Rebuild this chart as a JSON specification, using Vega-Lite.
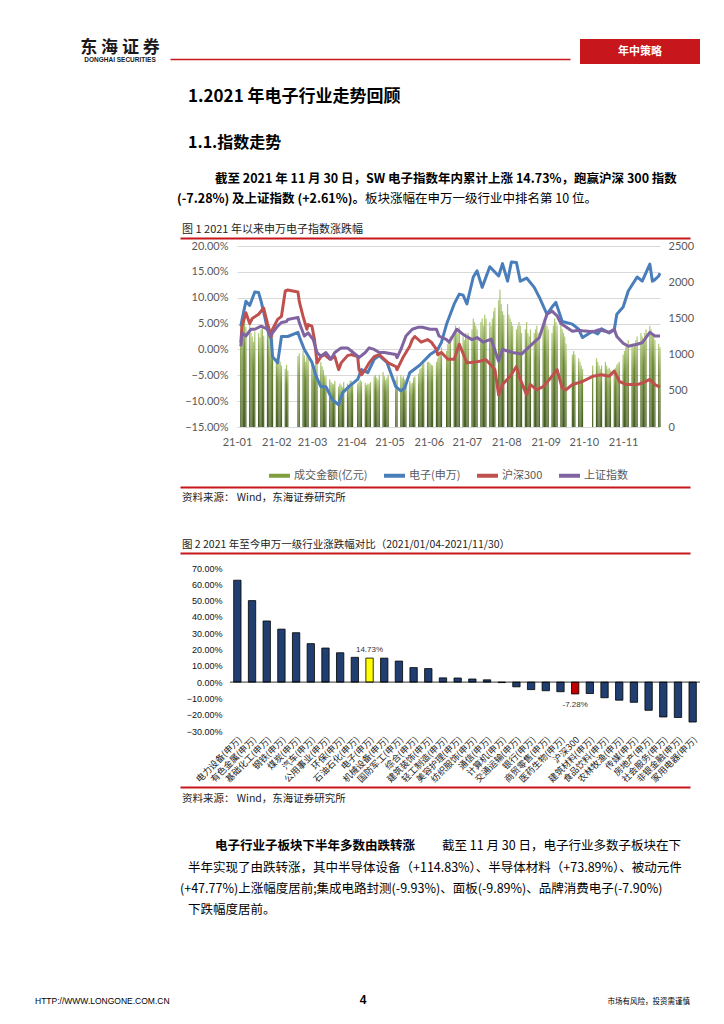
{
"$schema": "https://vega.github.io/schema/vega-lite/v6.json",
"padding": {"left": 35, "top": 38, "right": 10, "bottom": 5},
"background": "white",
"spacing": 0,
"resolve": {"scale": {"stroke": "independent", "color": "independent"}, "legend": {"stroke": "independent", "color": "independent"}},
"config": {
  "view": {"stroke": null},
  "font": "Noto Sans CJK SC",
  "title": {"anchor": "start", "frame": "group", "font": "Noto Sans CJK SC", "color": "#000000", "fontWeight": "normal", "offset": 0, "fontSize": 12.5, "orient": "bottom"},
  "text": {"font": "Noto Sans CJK SC"}
},
"datasets": {
  "empty": [],
  "logo": [{"cn": "东 海 证 券", "en": "DONGHAI SECURITIES", "tag": "年中策略"}],
  "amt": [
{"d":"2021-01-04","a":1450},{"d":"2021-01-05","a":1350},{"d":"2021-01-06","a":1420},{"d":"2021-01-07","a":1520},{"d":"2021-01-08","a":1380},
{"d":"2021-01-11","a":1430},{"d":"2021-01-12","a":1300},{"d":"2021-01-13","a":1250},{"d":"2021-01-14","a":1180},{"d":"2021-01-15","a":1320},
{"d":"2021-01-18","a":1300},{"d":"2021-01-19","a":1240},{"d":"2021-01-20","a":1350},{"d":"2021-01-21","a":1400},{"d":"2021-01-22","a":1260},
{"d":"2021-01-25","a":1480},{"d":"2021-01-26","a":1320},{"d":"2021-01-27","a":1230},{"d":"2021-01-28","a":1210},{"d":"2021-01-29","a":1280},
{"d":"2021-02-01","a":950},{"d":"2021-02-02","a":880},{"d":"2021-02-03","a":920},{"d":"2021-02-04","a":900},{"d":"2021-02-05","a":850},
{"d":"2021-02-08","a":800},{"d":"2021-02-09","a":860},{"d":"2021-02-10","a":780},{"d":"2021-02-18","a":980},{"d":"2021-02-19","a":1020},
{"d":"2021-02-22","a":1050},{"d":"2021-02-23","a":990},{"d":"2021-02-24","a":900},{"d":"2021-02-25","a":970},{"d":"2021-02-26","a":940},
{"d":"2021-03-01","a":900},{"d":"2021-03-02","a":870},{"d":"2021-03-03","a":850},{"d":"2021-03-04","a":910},{"d":"2021-03-05","a":880},
{"d":"2021-03-08","a":900},{"d":"2021-03-09","a":840},{"d":"2021-03-10","a":790},{"d":"2021-03-11","a":720},{"d":"2021-03-12","a":700},
{"d":"2021-03-15","a":660},{"d":"2021-03-16","a":620},{"d":"2021-03-17","a":600},{"d":"2021-03-18","a":590},{"d":"2021-03-19","a":640},
{"d":"2021-03-22","a":560},{"d":"2021-03-23","a":600},{"d":"2021-03-24","a":580},{"d":"2021-03-25","a":550},{"d":"2021-03-26","a":620},
{"d":"2021-03-29","a":600},{"d":"2021-03-30","a":580},{"d":"2021-03-31","a":640},
{"d":"2021-04-01","a":640},{"d":"2021-04-02","a":620},{"d":"2021-04-06","a":600},{"d":"2021-04-07","a":620},{"d":"2021-04-08","a":650},{"d":"2021-04-09","a":630},
{"d":"2021-04-12","a":610},{"d":"2021-04-13","a":580},{"d":"2021-04-14","a":600},{"d":"2021-04-15","a":590},{"d":"2021-04-16","a":620},
{"d":"2021-04-19","a":700},{"d":"2021-04-20","a":720},{"d":"2021-04-21","a":680},{"d":"2021-04-22","a":650},{"d":"2021-04-23","a":720},
{"d":"2021-04-26","a":760},{"d":"2021-04-27","a":700},{"d":"2021-04-28","a":650},{"d":"2021-04-29","a":680},{"d":"2021-04-30","a":720},
{"d":"2021-05-06","a":650},{"d":"2021-05-07","a":700},{"d":"2021-05-10","a":720},{"d":"2021-05-11","a":680},{"d":"2021-05-12","a":700},{"d":"2021-05-13","a":660},{"d":"2021-05-14","a":620},
{"d":"2021-05-17","a":640},{"d":"2021-05-18","a":600},{"d":"2021-05-19","a":610},{"d":"2021-05-20","a":680},{"d":"2021-05-21","a":700},
{"d":"2021-05-24","a":740},{"d":"2021-05-25","a":800},{"d":"2021-05-26","a":820},{"d":"2021-05-27","a":860},{"d":"2021-05-28","a":880},{"d":"2021-05-31","a":900},
{"d":"2021-06-01","a":900},{"d":"2021-06-02","a":880},{"d":"2021-06-03","a":860},{"d":"2021-06-04","a":850},
{"d":"2021-06-07","a":900},{"d":"2021-06-08","a":950},{"d":"2021-06-09","a":1000},{"d":"2021-06-10","a":1050},{"d":"2021-06-11","a":1100},
{"d":"2021-06-15","a":1050},{"d":"2021-06-16","a":1150},{"d":"2021-06-17","a":1200},{"d":"2021-06-18","a":1250},
{"d":"2021-06-21","a":1300},{"d":"2021-06-22","a":1400},{"d":"2021-06-23","a":1350},{"d":"2021-06-24","a":1300},{"d":"2021-06-25","a":1380},
{"d":"2021-06-28","a":1250},{"d":"2021-06-29","a":1200},{"d":"2021-06-30","a":1300},
{"d":"2021-07-01","a":1250},{"d":"2021-07-02","a":1300},{"d":"2021-07-05","a":1350},{"d":"2021-07-06","a":1500},{"d":"2021-07-07","a":1450},{"d":"2021-07-08","a":1400},{"d":"2021-07-09","a":1350},
{"d":"2021-07-12","a":1450},{"d":"2021-07-13","a":1500},{"d":"2021-07-14","a":1400},{"d":"2021-07-15","a":1550},{"d":"2021-07-16","a":1500},
{"d":"2021-07-19","a":1450},{"d":"2021-07-20","a":1400},{"d":"2021-07-21","a":1500},{"d":"2021-07-22","a":1600},{"d":"2021-07-23","a":1650},
{"d":"2021-07-26","a":1750},{"d":"2021-07-27","a":1900},{"d":"2021-07-28","a":1700},{"d":"2021-07-29","a":1600},{"d":"2021-07-30","a":1550},
{"d":"2021-08-02","a":1700},{"d":"2021-08-03","a":1550},{"d":"2021-08-04","a":1500},{"d":"2021-08-05","a":1450},{"d":"2021-08-06","a":1400},
{"d":"2021-08-09","a":1350},{"d":"2021-08-10","a":1400},{"d":"2021-08-11","a":1450},{"d":"2021-08-12","a":1400},{"d":"2021-08-13","a":1300},
{"d":"2021-08-16","a":1350},{"d":"2021-08-17","a":1450},{"d":"2021-08-18","a":1300},{"d":"2021-08-19","a":1250},{"d":"2021-08-20","a":1350},
{"d":"2021-08-23","a":1300},{"d":"2021-08-24","a":1350},{"d":"2021-08-25","a":1400},{"d":"2021-08-26","a":1300},{"d":"2021-08-27","a":1250},
{"d":"2021-08-30","a":1400},{"d":"2021-08-31","a":1500},
{"d":"2021-09-01","a":1450},{"d":"2021-09-02","a":1400},{"d":"2021-09-03","a":1350},
{"d":"2021-09-06","a":1300},{"d":"2021-09-07","a":1400},{"d":"2021-09-08","a":1500},{"d":"2021-09-09","a":1450},{"d":"2021-09-10","a":1400},
{"d":"2021-09-13","a":1450},{"d":"2021-09-14","a":1350},{"d":"2021-09-15","a":1300},{"d":"2021-09-16","a":1250},{"d":"2021-09-17","a":1150},
{"d":"2021-09-22","a":1000},{"d":"2021-09-23","a":1050},{"d":"2021-09-24","a":1000},
{"d":"2021-09-27","a":950},{"d":"2021-09-28","a":900},{"d":"2021-09-29","a":850},{"d":"2021-09-30","a":800},
{"d":"2021-10-08","a":850},
{"d":"2021-10-11","a":950},{"d":"2021-10-12","a":900},{"d":"2021-10-13","a":850},{"d":"2021-10-14","a":800},{"d":"2021-10-15","a":850},
{"d":"2021-10-18","a":900},{"d":"2021-10-19","a":850},{"d":"2021-10-20","a":800},{"d":"2021-10-21","a":820},{"d":"2021-10-22","a":780},
{"d":"2021-10-25","a":800},{"d":"2021-10-26","a":820},{"d":"2021-10-27","a":860},{"d":"2021-10-28","a":880},{"d":"2021-10-29","a":900},
{"d":"2021-11-01","a":1000},{"d":"2021-11-02","a":1050},{"d":"2021-11-03","a":1100},{"d":"2021-11-04","a":1150},{"d":"2021-11-05","a":1200},
{"d":"2021-11-08","a":1150},{"d":"2021-11-09","a":1100},{"d":"2021-11-10","a":1150},{"d":"2021-11-11","a":1200},{"d":"2021-11-12","a":1250},
{"d":"2021-11-15","a":1300},{"d":"2021-11-16","a":1250},{"d":"2021-11-17","a":1200},{"d":"2021-11-18","a":1300},{"d":"2021-11-19","a":1350},
{"d":"2021-11-22","a":1400},{"d":"2021-11-23","a":1350},{"d":"2021-11-24","a":1300},{"d":"2021-11-25","a":1250},{"d":"2021-11-26","a":1200},
{"d":"2021-11-29","a":1150},{"d":"2021-11-30","a":1100}
  ],
  "lines": [
{"d":"2021-01-04","s":"电子(申万)","v":4.5},{"d":"2021-01-05","s":"电子(申万)","v":5.8},{"d":"2021-01-08","s":"电子(申万)","v":9.3},{"d":"2021-01-11","s":"电子(申万)","v":8.5},{"d":"2021-01-15","s":"电子(申万)","v":11.1},{"d":"2021-01-18","s":"电子(申万)","v":11.0},{"d":"2021-01-20","s":"电子(申万)","v":9.3},{"d":"2021-01-22","s":"电子(申万)","v":7.2},{"d":"2021-01-25","s":"电子(申万)","v":3.9},{"d":"2021-01-28","s":"电子(申万)","v":1.9},{"d":"2021-01-29","s":"电子(申万)","v":-1.4},
{"d":"2021-02-02","s":"电子(申万)","v":-2.6},{"d":"2021-02-05","s":"电子(申万)","v":2.5},{"d":"2021-02-10","s":"电子(申万)","v":2.5},{"d":"2021-02-18","s":"电子(申万)","v":3.3},{"d":"2021-02-19","s":"电子(申万)","v":2.5},{"d":"2021-02-23","s":"电子(申万)","v":0},
{"d":"2021-03-01","s":"电子(申万)","v":-2.5},{"d":"2021-03-04","s":"电子(申万)","v":-5.0},{"d":"2021-03-08","s":"电子(申万)","v":-7.2},{"d":"2021-03-12","s":"电子(申万)","v":-7.2},{"d":"2021-03-17","s":"电子(申万)","v":-9.7},{"d":"2021-03-22","s":"电子(申万)","v":-10.7},{"d":"2021-03-25","s":"电子(申万)","v":-8.4},{"d":"2021-03-31","s":"电子(申万)","v":-7.0},
{"d":"2021-04-06","s":"电子(申万)","v":-5.8},{"d":"2021-04-09","s":"电子(申万)","v":-3.9},{"d":"2021-04-14","s":"电子(申万)","v":-4.5},{"d":"2021-04-19","s":"电子(申万)","v":-1.9},{"d":"2021-04-23","s":"电子(申万)","v":-1.2},{"d":"2021-04-29","s":"电子(申万)","v":-2.5},
{"d":"2021-05-06","s":"电子(申万)","v":-7.2},{"d":"2021-05-10","s":"电子(申万)","v":-8.0},{"d":"2021-05-13","s":"电子(申万)","v":-7.5},{"d":"2021-05-17","s":"电子(申万)","v":-4.5},{"d":"2021-05-25","s":"电子(申万)","v":-3.0},
{"d":"2021-06-02","s":"电子(申万)","v":-1.0},{"d":"2021-06-08","s":"电子(申万)","v":0},{"d":"2021-06-11","s":"电子(申万)","v":1.4},{"d":"2021-06-15","s":"电子(申万)","v":4.9},{"d":"2021-06-21","s":"电子(申万)","v":8.8},{"d":"2021-06-25","s":"电子(申万)","v":10.7},{"d":"2021-06-28","s":"电子(申万)","v":10.5},
{"d":"2021-07-01","s":"电子(申万)","v":8.8},{"d":"2021-07-06","s":"电子(申万)","v":14.0},{"d":"2021-07-09","s":"电子(申万)","v":15.2},{"d":"2021-07-13","s":"电子(申万)","v":12.0},{"d":"2021-07-19","s":"电子(申万)","v":16.0},{"d":"2021-07-26","s":"电子(申万)","v":14.2},{"d":"2021-07-29","s":"电子(申万)","v":16.6},
{"d":"2021-08-02","s":"电子(申万)","v":13.2},{"d":"2021-08-05","s":"电子(申万)","v":16.9},{"d":"2021-08-09","s":"电子(申万)","v":16.8},{"d":"2021-08-12","s":"电子(申万)","v":13.2},{"d":"2021-08-17","s":"电子(申万)","v":13.8},{"d":"2021-08-23","s":"电子(申万)","v":12.0},{"d":"2021-08-27","s":"电子(申万)","v":10.1},
{"d":"2021-09-02","s":"电子(申万)","v":6.8},{"d":"2021-09-06","s":"电子(申万)","v":8.2},{"d":"2021-09-09","s":"电子(申万)","v":9.1},{"d":"2021-09-14","s":"电子(申万)","v":5.4},{"d":"2021-09-22","s":"电子(申万)","v":4.9},{"d":"2021-09-27","s":"电子(申万)","v":3.9},{"d":"2021-09-30","s":"电子(申万)","v":2.3},
{"d":"2021-10-08","s":"电子(申万)","v":3.5},{"d":"2021-10-12","s":"电子(申万)","v":3.0},{"d":"2021-10-15","s":"电子(申万)","v":4.0},{"d":"2021-10-21","s":"电子(申万)","v":3.2},{"d":"2021-10-25","s":"电子(申万)","v":3.8},{"d":"2021-10-27","s":"电子(申万)","v":6.8},
{"d":"2021-11-01","s":"电子(申万)","v":8.2},{"d":"2021-11-05","s":"电子(申万)","v":11.3},{"d":"2021-11-12","s":"电子(申万)","v":14.0},{"d":"2021-11-16","s":"电子(申万)","v":13.2},{"d":"2021-11-22","s":"电子(申万)","v":16.5},{"d":"2021-11-24","s":"电子(申万)","v":13.2},{"d":"2021-11-26","s":"电子(申万)","v":13.5},{"d":"2021-11-29","s":"电子(申万)","v":14.2},{"d":"2021-11-30","s":"电子(申万)","v":14.73},

{"d":"2021-01-04","s":"沪深300","v":1.3},{"d":"2021-01-05","s":"沪深300","v":4.5},{"d":"2021-01-08","s":"沪深300","v":7.1},{"d":"2021-01-11","s":"沪深300","v":5.0},{"d":"2021-01-13","s":"沪深300","v":6.0},{"d":"2021-01-18","s":"沪深300","v":6.8},{"d":"2021-01-22","s":"沪深300","v":8.0},{"d":"2021-01-25","s":"沪深300","v":5.0},{"d":"2021-01-28","s":"沪深300","v":2.5},{"d":"2021-01-29","s":"沪深300","v":3.9},
{"d":"2021-02-02","s":"沪深300","v":5.8},{"d":"2021-02-05","s":"沪深300","v":6.4},{"d":"2021-02-08","s":"沪深300","v":11.3},{"d":"2021-02-10","s":"沪深300","v":11.5},{"d":"2021-02-18","s":"沪深300","v":11.1},{"d":"2021-02-19","s":"沪深300","v":9.3},{"d":"2021-02-22","s":"沪深300","v":6.4},{"d":"2021-02-25","s":"沪深300","v":3.9},{"d":"2021-02-26","s":"沪深300","v":4.8},
{"d":"2021-03-01","s":"沪深300","v":4.5},{"d":"2021-03-03","s":"沪深300","v":1.9},{"d":"2021-03-05","s":"沪深300","v":-2.6},{"d":"2021-03-08","s":"沪深300","v":-1.4},{"d":"2021-03-11","s":"沪深300","v":-1.0},{"d":"2021-03-15","s":"沪深300","v":-1.9},{"d":"2021-03-19","s":"沪深300","v":-1.4},{"d":"2021-03-22","s":"沪深300","v":-3.9},{"d":"2021-03-24","s":"沪深300","v":-2.6},{"d":"2021-03-29","s":"沪深300","v":-1.2},
{"d":"2021-04-01","s":"沪深300","v":-1.0},{"d":"2021-04-06","s":"沪深300","v":-1.4},{"d":"2021-04-07","s":"沪深300","v":-3.9},{"d":"2021-04-09","s":"沪深300","v":-4.9},{"d":"2021-04-12","s":"沪深300","v":-3.9},{"d":"2021-04-15","s":"沪深300","v":-2.6},{"d":"2021-04-19","s":"沪深300","v":-1.4},{"d":"2021-04-23","s":"沪深300","v":-1.0},{"d":"2021-04-27","s":"沪深300","v":-1.9},{"d":"2021-04-30","s":"沪深300","v":-2.6},
{"d":"2021-05-06","s":"沪深300","v":-3.3},{"d":"2021-05-07","s":"沪深300","v":-3.9},{"d":"2021-05-12","s":"沪深300","v":-1.4},{"d":"2021-05-17","s":"沪深300","v":0.6},{"d":"2021-05-19","s":"沪深300","v":1.9},{"d":"2021-05-21","s":"沪深300","v":2.5},{"d":"2021-05-26","s":"沪深300","v":1.4},{"d":"2021-05-31","s":"沪深300","v":1.9},
{"d":"2021-06-03","s":"沪深300","v":1.4},{"d":"2021-06-07","s":"沪深300","v":0},{"d":"2021-06-08","s":"沪深300","v":-1.0},{"d":"2021-06-11","s":"沪深300","v":-0.6},{"d":"2021-06-16","s":"沪深300","v":-1.9},{"d":"2021-06-21","s":"沪深300","v":-1.9},{"d":"2021-06-25","s":"沪深300","v":1.0},
{"d":"2021-07-01","s":"沪深300","v":-2.6},{"d":"2021-07-09","s":"沪深300","v":-2.4},{"d":"2021-07-16","s":"沪深300","v":-2.0},{"d":"2021-07-23","s":"沪深300","v":-3.9},{"d":"2021-07-26","s":"沪深300","v":-8.8},{"d":"2021-07-29","s":"沪深300","v":-6.8},
{"d":"2021-08-04","s":"沪深300","v":-5.2},{"d":"2021-08-09","s":"沪深300","v":-3.3},{"d":"2021-08-12","s":"沪深300","v":-5.8},{"d":"2021-08-17","s":"沪深300","v":-8.8},{"d":"2021-08-20","s":"沪深300","v":-6.8},{"d":"2021-08-25","s":"沪深300","v":-7.8},{"d":"2021-08-30","s":"沪深300","v":-7.2},
{"d":"2021-09-06","s":"沪深300","v":-5.2},{"d":"2021-09-10","s":"沪深300","v":-3.9},{"d":"2021-09-14","s":"沪深300","v":-7.5},{"d":"2021-09-17","s":"沪深300","v":-7.8},{"d":"2021-09-22","s":"沪深300","v":-6.8},{"d":"2021-09-30","s":"沪深300","v":-6.2},
{"d":"2021-10-08","s":"沪深300","v":-5.2},{"d":"2021-10-15","s":"沪深300","v":-4.9},{"d":"2021-10-21","s":"沪深300","v":-5.2},{"d":"2021-10-25","s":"沪深300","v":-4.2},{"d":"2021-10-29","s":"沪深300","v":-6.2},
{"d":"2021-11-04","s":"沪深300","v":-6.8},{"d":"2021-11-12","s":"沪深300","v":-6.8},{"d":"2021-11-16","s":"沪深300","v":-6.5},{"d":"2021-11-22","s":"沪深300","v":-5.8},{"d":"2021-11-26","s":"沪深300","v":-6.8},{"d":"2021-11-30","s":"沪深300","v":-7.28},

{"d":"2021-01-04","s":"上证指数","v":0.6},{"d":"2021-01-05","s":"上证指数","v":3.2},{"d":"2021-01-08","s":"上证指数","v":2.6},{"d":"2021-01-12","s":"上证指数","v":3.9},{"d":"2021-01-15","s":"上证指数","v":3.9},{"d":"2021-01-20","s":"上证指数","v":4.5},{"d":"2021-01-25","s":"上证指数","v":3.9},{"d":"2021-01-27","s":"上证指数","v":2.6},{"d":"2021-01-29","s":"上证指数","v":3.2},
{"d":"2021-02-02","s":"上证指数","v":4.5},{"d":"2021-02-05","s":"上证指数","v":5.2},{"d":"2021-02-09","s":"上证指数","v":5.4},{"d":"2021-02-10","s":"上证指数","v":5.8},{"d":"2021-02-18","s":"上证指数","v":6.2},{"d":"2021-02-19","s":"上证指数","v":5.2},{"d":"2021-02-23","s":"上证指数","v":2.6},{"d":"2021-02-26","s":"上证指数","v":3.2},
{"d":"2021-03-02","s":"上证指数","v":1.9},{"d":"2021-03-05","s":"上证指数","v":-0.6},{"d":"2021-03-08","s":"上证指数","v":-1.3},{"d":"2021-03-12","s":"上证指数","v":-0.6},{"d":"2021-03-16","s":"上证指数","v":-1.9},{"d":"2021-03-19","s":"上证指数","v":-0.6},{"d":"2021-03-24","s":"上证指数","v":0.3},{"d":"2021-03-29","s":"上证指数","v":0.3},
{"d":"2021-04-01","s":"上证指数","v":-0.3},{"d":"2021-04-06","s":"上证指数","v":-1.3},{"d":"2021-04-07","s":"上证指数","v":-1.6},{"d":"2021-04-12","s":"上证指数","v":-0.6},{"d":"2021-04-15","s":"上证指数","v":0.3},{"d":"2021-04-19","s":"上证指数","v":0},{"d":"2021-04-23","s":"上证指数","v":-0.6},{"d":"2021-04-27","s":"上证指数","v":-0.6},
{"d":"2021-05-06","s":"上证指数","v":-1.0},{"d":"2021-05-07","s":"上证指数","v":-1.6},{"d":"2021-05-10","s":"上证指数","v":0},{"d":"2021-05-14","s":"上证指数","v":2.6},{"d":"2021-05-19","s":"上证指数","v":3.9},{"d":"2021-05-24","s":"上证指数","v":4.3},{"d":"2021-05-27","s":"上证指数","v":4.3},
{"d":"2021-06-02","s":"上证指数","v":3.9},{"d":"2021-06-07","s":"上证指数","v":3.9},{"d":"2021-06-09","s":"上证指数","v":2.6},{"d":"2021-06-15","s":"上证指数","v":1.9},{"d":"2021-06-17","s":"上证指数","v":1.4},{"d":"2021-06-23","s":"上证指数","v":3.9},{"d":"2021-06-28","s":"上证指数","v":2.9},
{"d":"2021-07-05","s":"上证指数","v":1.9},{"d":"2021-07-09","s":"上证指数","v":2.3},{"d":"2021-07-14","s":"上证指数","v":1.4},{"d":"2021-07-20","s":"上证指数","v":2.0},{"d":"2021-07-26","s":"上证指数","v":-2.3},{"d":"2021-07-29","s":"上证指数","v":0},
{"d":"2021-08-02","s":"上证指数","v":-0.3},{"d":"2021-08-06","s":"上证指数","v":-0.6},{"d":"2021-08-13","s":"上证指数","v":-0.9},{"d":"2021-08-23","s":"上证指数","v":1.4},{"d":"2021-08-27","s":"上证指数","v":2.3},
{"d":"2021-09-02","s":"上证指数","v":6.8},{"d":"2021-09-06","s":"上证指数","v":7.4},{"d":"2021-09-10","s":"上证指数","v":6.5},{"d":"2021-09-13","s":"上证指数","v":5.0},{"d":"2021-09-22","s":"上证指数","v":3.5},{"d":"2021-09-27","s":"上证指数","v":3.7},{"d":"2021-09-30","s":"上证指数","v":3.6},
{"d":"2021-10-08","s":"上证指数","v":3.4},{"d":"2021-10-13","s":"上证指数","v":3.8},{"d":"2021-10-21","s":"上证指数","v":3.3},{"d":"2021-10-25","s":"上证指数","v":3.9},{"d":"2021-10-27","s":"上证指数","v":2.5},
{"d":"2021-11-01","s":"上证指数","v":1.2},{"d":"2021-11-05","s":"上证指数","v":0.6},{"d":"2021-11-12","s":"上证指数","v":1.0},{"d":"2021-11-16","s":"上证指数","v":1.3},{"d":"2021-11-22","s":"上证指数","v":3.3},{"d":"2021-11-26","s":"上证指数","v":2.6},{"d":"2021-11-30","s":"上证指数","v":2.61}
  ],
  "ind": [
{"n":"电力设备(申万)","v":62.5},{"n":"有色金属(申万)","v":50.0},{"n":"基础化工(申万)","v":37.5},{"n":"钢铁(申万)","v":32.5},
{"n":"煤炭(申万)","v":30.3},{"n":"汽车(申万)","v":23.6},{"n":"公用事业(申万)","v":20.9},{"n":"环保(申万)","v":18.0},
{"n":"石油石化(申万)","v":15.2},{"n":"电子(申万)","v":14.73,"lbl":"14.73%"},{"n":"机械设备(申万)","v":14.7},{"n":"国防军工(申万)","v":12.9},
{"n":"综合(申万)","v":8.9},{"n":"建筑装饰(申万)","v":8.3},{"n":"轻工制造(申万)","v":2.6},{"n":"美容护理(申万)","v":2.5},
{"n":"纺织服饰(申万)","v":1.9},{"n":"通信(申万)","v":1.4},{"n":"计算机(申万)","v":-0.3},{"n":"交通运输(申万)","v":-2.9},
{"n":"银行(申万)","v":-4.6},{"n":"商贸零售(申万)","v":-5.3},{"n":"医药生物(申万)","v":-5.9},{"n":"沪深300","v":-7.28,"lbl":"-7.28%"},
{"n":"建筑材料(申万)","v":-7.0},{"n":"食品饮料(申万)","v":-9.6},{"n":"农林牧渔(申万)","v":-11.1},{"n":"传媒(申万)","v":-12.4},
{"n":"房地产(申万)","v":-17.3},{"n":"社会服务(申万)","v":-21.4},{"n":"非银金融(申万)","v":-21.7},{"n":"家用电器(申万)","v":-24.5}
  ]
},
"vconcat": [
  {"hconcat": [
    {"width": 35, "height": 25, "data": {"name": "empty"}, "mark": "text"},
    {"width": 100, "height": 25, "data": {"name": "logo"},
     "layer": [
       {"mark": {"type": "text", "fontSize": 17, "fontWeight": "bold", "color": "#1a1a1a", "dy": -4}, "encoding": {"text": {"field": "cn"}}},
       {"mark": {"type": "text", "fontSize": 6.5, "fontWeight": "bold", "color": "#1a1a1a", "dy": 8, "font": "Liberation Sans"}, "encoding": {"text": {"field": "en"}}}
     ]},
    {"width": 400, "height": 20, "data": {"name": "empty"}, "mark": "point",
     "encoding": {"x": {"datum": 0, "type": "quantitative", "scale": {"domain": [0, 1]}, "axis": {"orient": "bottom", "labels": false, "ticks": false, "grid": false, "title": null, "domainColor": "#c8161d", "domainWidth": 1.5}}}},
    {"width": 10, "height": 25, "data": {"name": "empty"}, "mark": "text"},
    {"width": 120, "height": 25, "view": {"fill": "#c8161d", "stroke": null}, "data": {"name": "logo"},
     "mark": {"type": "text", "fontSize": 11, "fontWeight": "bold", "color": "#ffffff"}, "encoding": {"text": {"field": "tag"}}}
  ], "spacing": 0, "bounds": "flush"},

  {"hconcat": [
    {"width": 600, "height": 20.7, "data": {"name": "empty"}, "mark": "text",
     "title": {"text": "1.2021 年电子行业走势回顾", "fontSize": 17, "fontWeight": "bold", "dx": 153}},
    {"width": 1, "height": 64, "data": {"name": "empty"}, "mark": "text"}
  ], "spacing": 0, "bounds": "flush"},

  {"hconcat": [
    {"width": 600, "height": 2.5, "data": {"name": "empty"}, "mark": "text",
     "title": {"text": "1.1.指数走势", "fontSize": 16, "fontWeight": "bold", "dx": 153}},
    {"width": 1, "height": 39, "data": {"name": "empty"}, "mark": "text"}
  ], "spacing": 0, "bounds": "flush"},

  {"hconcat": [
    {"width": 600, "height": 2.25, "data": {"name": "empty"}, "mark": "text",
     "title": {"text": "截至 2021 年 11 月 30 日，SW 电子指数年内累计上涨 14.73%，跑赢沪深 300 指数", "fontSize": 12.5, "fontWeight": "bold", "dx": 180}},
    {"width": 1, "height": 20, "data": {"name": "empty"}, "mark": "text"}
  ], "spacing": 0, "bounds": "flush"},

  {"hconcat": [
    {"width": 330, "height": 2.25, "data": {"name": "empty"}, "mark": "text",
     "title": {"text": "(-7.28%) 及上证指数 (+2.61%)。", "anchor": "end", "fontSize": 12.5, "fontWeight": "bold"}},
    {"width": 300, "height": 2.25, "data": {"name": "empty"}, "mark": "text",
     "title": {"text": "板块涨幅在申万一级行业中排名第 10 位。", "anchor": "start", "fontSize": 12.5}},
    {"width": 1, "height": 31, "data": {"name": "empty"}, "mark": "text"}
  ], "spacing": 0, "bounds": "flush"},

  {"hconcat": [
    {"width": 145, "height": 2.4, "data": {"name": "empty"}, "mark": "text",
     "title": {"text": "图  1 2021 年以来申万电子指数涨跌幅", "fontSize": 11, "dx": 147, "color": "#222222"}},
    {"width": 510, "height": 20, "data": {"name": "empty"}, "mark": "point",
     "encoding": {"x": {"datum": 0, "type": "quantitative", "scale": {"domain": [0, 1]}, "axis": {"orient": "bottom", "labels": false, "ticks": false, "grid": false, "title": null, "domainColor": "#c8161d", "domainWidth": 2}}}},
    {"width": 1, "height": 21.5, "data": {"name": "empty"}, "mark": "text"}
  ], "spacing": 0, "bounds": "flush"},

  {"hconcat": [
    {"width": 202, "height": 1, "data": {"name": "empty"}, "mark": "text"},
    {"width": 423, "height": 181,
     "layer": [
       {"data": {"name": "amt"},
        "mark": {"type": "bar", "width": 1.2, "strokeWidth": 0,
                 "fill": {"gradient": "linear", "x1": 0, "y1": 0, "x2": 0, "y2": 1, "stops": [{"offset": 0, "color": "#b3cc7a"}, {"offset": 0.3, "color": "#6f8c34"}, {"offset": 1, "color": "#435a1f"}]}},
        "encoding": {
          "x": {"field": "d", "type": "temporal",
                "scale": {"type": "utc", "nice": false, "padding": 0, "domain": [{"year": 2021, "month": 1, "date": 1, "utc": true}, {"year": 2021, "month": 11, "date": 30, "utc": true}]},
                "axis": {"title": null, "format": "%y-%m", "tickCount": "month", "labelFlush": false, "labelOverlap": false, "domain": false, "ticks": false, "grid": false, "labelPadding": 9, "labelFontSize": 11, "labelColor": "#595959", "labelFont": "Lato"}},
          "y": {"field": "a", "type": "quantitative", "scale": {"domain": [0, 2500], "nice": false},
                "axis": {"orient": "right", "title": null, "values": [0, 500, 1000, 1500, 2000, 2500], "format": "d", "domain": false, "ticks": false, "grid": false, "labelPadding": 8, "labelFontSize": 11, "labelColor": "#595959", "labelFont": "Lato"}},
          "stroke": {"datum": "成交金额(亿元)",
                "scale": {"domain": ["成交金额(亿元)", "电子(申万)", "沪深300", "上证指数"], "range": ["#7f9f3e", "#4a7ebb", "#c0504d", "#8064a2"]},
                "legend": {"orient": "none", "legendX": 30, "legendY": 217, "direction": "horizontal", "title": null, "symbolType": "M-1,0L1,0", "symbolSize": 441, "symbolStrokeWidth": 4, "labelFontSize": 11, "labelColor": "#595959", "labelFont": "Noto Sans CJK SC", "columnPadding": 8, "labelOffset": 2}}
        }},
       {"data": {"name": "lines"},
        "mark": {"type": "line", "strokeWidth": 3, "strokeJoin": "round"},
        "encoding": {
          "x": {"field": "d", "type": "temporal",
                "scale": {"type": "utc", "nice": false, "padding": 0, "domain": [{"year": 2021, "month": 1, "date": 1, "utc": true}, {"year": 2021, "month": 11, "date": 30, "utc": true}]},
                "axis": {"title": null, "format": "%y-%m", "tickCount": "month", "labelFlush": false, "labelOverlap": false, "domain": false, "ticks": false, "grid": false, "labelPadding": 9, "labelFontSize": 11, "labelColor": "#595959", "labelFont": "Lato"}},
          "y": {"field": "v", "type": "quantitative", "scale": {"domain": [-15, 20], "nice": false},
                "axis": {"orient": "left", "title": null, "values": [-15, -10, -5, 0, 5, 10, 15, 20], "labelExpr": "format(datum.value, '.2f') + '%'", "domain": false, "ticks": false, "grid": true, "gridColor": "#d9d9d9", "gridWidth": 1, "labelPadding": 9, "labelFontSize": 11, "labelColor": "#595959", "labelFont": "Lato"}},
          "stroke": {"field": "s", "type": "nominal",
                "legend": {"orient": "none", "legendX": 30, "legendY": 217, "direction": "horizontal", "title": null, "symbolType": "M-1,0L1,0", "symbolSize": 441, "symbolStrokeWidth": 4, "labelFontSize": 11, "labelColor": "#595959", "labelFont": "Noto Sans CJK SC", "columnPadding": 8, "labelOffset": 2}}
        }}
     ],
     "resolve": {"scale": {"y": "independent"}}},
    {"width": 1, "height": 238, "data": {"name": "empty"}, "mark": "text"}
  ], "spacing": 0, "bounds": "flush",
   "resolve": {"scale": {"stroke": "independent"}, "legend": {"stroke": "independent"}}},

  {"hconcat": [
    {"width": 145, "height": 4.8, "data": {"name": "empty"}, "mark": "text",
     "title": {"text": "资料来源：  Wind，东海证券研究所", "fontSize": 10.5, "dx": 147, "color": "#222222"}},
    {"width": 510, "height": 3, "data": {"name": "empty"}, "mark": "point",
     "encoding": {"x": {"datum": 0, "type": "quantitative", "scale": {"domain": [0, 1]}, "axis": {"orient": "bottom", "labels": false, "ticks": false, "grid": false, "title": null, "domainColor": "#c8161d", "domainWidth": 2}}}},
    {"width": 1, "height": 49, "data": {"name": "empty"}, "mark": "text"}
  ], "spacing": 0, "bounds": "flush"},

  {"hconcat": [
    {"width": 145, "height": 2.8, "data": {"name": "empty"}, "mark": "text",
     "title": {"text": "图  2 2021 年至今申万一级行业涨跌幅对比（2021/01/04-2021/11/30）", "fontSize": 10.5, "dx": 147, "color": "#222222"}},
    {"width": 510, "height": 20, "data": {"name": "empty"}, "mark": "point",
     "encoding": {"x": {"datum": 0, "type": "quantitative", "scale": {"domain": [0, 1]}, "axis": {"orient": "bottom", "labels": false, "ticks": false, "grid": false, "title": null, "domainColor": "#c8161d", "domainWidth": 2}}}},
    {"width": 1, "height": 30.9, "data": {"name": "empty"}, "mark": "text"}
  ], "spacing": 0, "bounds": "flush"},

  {"hconcat": [
    {"width": 195, "height": 1, "data": {"name": "empty"}, "mark": "text"},
    {"width": 470, "height": 163, "data": {"name": "ind"},
     "layer": [
       {"mark": {"type": "bar", "stroke": "#000000", "strokeWidth": 0.8, "width": {"band": 0.5}},
        "encoding": {
          "x": {"field": "n", "type": "nominal", "sort": null, "scale": {"paddingInner": 0, "paddingOuter": 0},
                "axis": {"title": null, "labelAngle": -45, "labelFontSize": 9, "labelColor": "#222222", "labelFont": "Noto Sans CJK SC", "domain": false, "ticks": false, "labelPadding": 4, "labelOverlap": false, "labelLimit": 0}},
          "y": {"field": "v", "type": "quantitative", "scale": {"domain": [-30, 70], "nice": false},
                "axis": {"title": null, "values": [-30, -20, -10, 0, 10, 20, 30, 40, 50, 60, 70], "labelExpr": "format(datum.value, '.2f') + '%'", "labelOverlap": false, "labelSeparation": 0, "domain": false, "ticks": false, "grid": false, "labelPadding": 8, "labelFontSize": 9, "labelColor": "#111111", "labelFont": "Liberation Sans"}},
          "color": {"condition": [{"test": "datum.n === '电子(申万)'", "value": "#ffff00"}, {"test": "datum.n === '沪深300'", "value": "#c00000"}], "value": "#203f70"}
        }},
       {"transform": [{"filter": "datum.lbl && datum.v > 0"}],
        "mark": {"type": "text", "baseline": "bottom", "dy": -4, "fontSize": 8, "color": "#333333", "font": "Liberation Sans"},
        "encoding": {
          "x": {"field": "n", "type": "nominal", "sort": null,
                "axis": {"title": null, "labelAngle": -45, "labelFontSize": 9, "labelColor": "#222222", "labelFont": "Noto Sans CJK SC", "domain": false, "ticks": false, "labelPadding": 4, "labelOverlap": false, "labelLimit": 0}},
          "y": {"field": "v", "type": "quantitative",
                "axis": {"title": null, "values": [-30, -20, -10, 0, 10, 20, 30, 40, 50, 60, 70], "labelExpr": "format(datum.value, '.2f') + '%'", "labelOverlap": false, "labelSeparation": 0, "domain": false, "ticks": false, "grid": false, "labelPadding": 8, "labelFontSize": 9, "labelColor": "#111111", "labelFont": "Liberation Sans"}},
          "text": {"field": "lbl"}}},
       {"transform": [{"filter": "datum.lbl && datum.v < 0"}],
        "mark": {"type": "text", "baseline": "top", "dy": 7, "fontSize": 8, "color": "#333333", "font": "Liberation Sans"},
        "encoding": {
          "x": {"field": "n", "type": "nominal", "sort": null,
                "axis": {"title": null, "labelAngle": -45, "labelFontSize": 9, "labelColor": "#222222", "labelFont": "Noto Sans CJK SC", "domain": false, "ticks": false, "labelPadding": 4, "labelOverlap": false, "labelLimit": 0}},
          "y": {"field": "v", "type": "quantitative",
                "axis": {"title": null, "values": [-30, -20, -10, 0, 10, 20, 30, 40, 50, 60, 70], "labelExpr": "format(datum.value, '.2f') + '%'", "labelOverlap": false, "labelSeparation": 0, "domain": false, "ticks": false, "grid": false, "labelPadding": 8, "labelFontSize": 9, "labelColor": "#111111", "labelFont": "Liberation Sans"}},
          "text": {"field": "lbl"}}},
       {"mark": {"type": "rule", "color": "#000000", "strokeWidth": 0.8},
        "transform": [{"filter": "datum.lbl && datum.v > 0"}],
        "encoding": {
          "y": {"datum": 0, "type": "quantitative",
                "axis": {"title": null, "values": [-30, -20, -10, 0, 10, 20, 30, 40, 50, 60, 70], "labelExpr": "format(datum.value, '.2f') + '%'", "labelOverlap": false, "labelSeparation": 0, "domain": false, "ticks": false, "grid": false, "labelPadding": 8, "labelFontSize": 9, "labelColor": "#111111", "labelFont": "Liberation Sans"}}}}
     ]},
    {"width": 1, "height": 217, "data": {"name": "empty"}, "mark": "text"}
  ], "spacing": 0, "bounds": "flush"},

  {"hconcat": [
    {"width": 145, "height": 4.8, "data": {"name": "empty"}, "mark": "text",
     "title": {"text": "资料来源：  Wind，东海证券研究所", "fontSize": 10.5, "dx": 147, "color": "#222222"}},
    {"width": 510, "height": 2, "data": {"name": "empty"}, "mark": "point",
     "encoding": {"x": {"datum": 0, "type": "quantitative", "scale": {"domain": [0, 1]}, "axis": {"orient": "bottom", "labels": false, "ticks": false, "grid": false, "title": null, "domainColor": "#c8161d", "domainWidth": 2}}}},
    {"width": 1, "height": 49, "data": {"name": "empty"}, "mark": "text"}
  ], "spacing": 0, "bounds": "flush"},

  {"hconcat": [
    {"width": 407, "height": 2.25, "data": {"name": "empty"}, "mark": "text",
     "title": {"text": "电子行业子板块下半年多数由跌转涨", "fontSize": 12.5, "fontWeight": "bold", "dx": 180}},
    {"width": 260, "height": 2.25, "data": {"name": "empty"}, "mark": "text",
     "title": {"text": "截至 11 月 30 日，电子行业多数子板块在下", "fontSize": 12.5}},
    {"width": 1, "height": 22, "data": {"name": "empty"}, "mark": "text"}
  ], "spacing": 0, "bounds": "flush"},

  {"hconcat": [
    {"width": 600, "height": 2.25, "data": {"name": "empty"}, "mark": "text",
     "title": {"text": "半年实现了由跌转涨，其中半导体设备（+114.83%）、半导体材料（+73.89%）、被动元件", "fontSize": 12.5, "dx": 153}},
    {"width": 1, "height": 21, "data": {"name": "empty"}, "mark": "text"}
  ], "spacing": 0, "bounds": "flush"},

  {"hconcat": [
    {"width": 600, "height": 2.25, "data": {"name": "empty"}, "mark": "text",
     "title": {"text": "(+47.77%)上涨幅度居前;集成电路封测(-9.93%)、面板(-9.89%)、品牌消费电子(-7.90%)", "fontSize": 12.5, "dx": 145}},
    {"width": 1, "height": 21, "data": {"name": "empty"}, "mark": "text"}
  ], "spacing": 0, "bounds": "flush"},

  {"hconcat": [
    {"width": 600, "height": 2.25, "data": {"name": "empty"}, "mark": "text",
     "title": {"text": "下跌幅度居前。", "fontSize": 12.5, "dx": 153}},
    {"width": 1, "height": 90, "data": {"name": "empty"}, "mark": "text"}
  ], "spacing": 0, "bounds": "flush"},

  {"hconcat": [
    {"width": 327, "height": 5.4, "data": {"name": "empty"}, "mark": "text",
     "title": {"text": "HTTP://WWW.LONGONE.COM.CN", "font": "Liberation Sans", "fontSize": 8.5}},
    {"width": 2, "height": 2.6, "data": {"name": "empty"}, "mark": "text",
     "title": {"text": "4", "anchor": "middle", "font": "Liberation Sans", "fontWeight": "bold", "fontSize": 12}},
    {"width": 326, "height": 6.2, "data": {"name": "empty"}, "mark": "text",
     "title": {"text": "市场有风险，投资需谨慎", "anchor": "end", "fontSize": 7.5}},
    {"width": 1, "height": 16, "data": {"name": "empty"}, "mark": "text"}
  ], "spacing": 0, "bounds": "flush"}
]
}
